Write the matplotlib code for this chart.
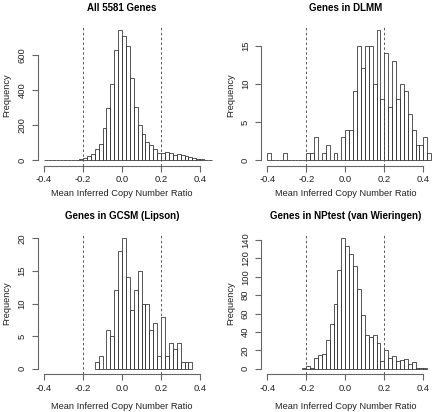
import numpy as np
import matplotlib
matplotlib.use("Agg")
import matplotlib.pyplot as plt

plt.rcParams['font.family'] = ['Liberation Sans', 'DejaVu Sans']

W, H = 433, 412
binw = 0.02

# counts per 0.02 bin, first left edge given separately
all_start = -0.40
all_counts = [1, 1, 0, 0, 0, 0, 1, 1, 2, 6, 15, 23, 38, 62, 95, 185, 300, 435, 625, 740,
              705, 650, 470, 305, 200, 151, 104, 87, 64, 42, 40, 45, 40, 30, 34, 32,
              25, 17, 13, 9, 7, 4, 2]

dlmm_start = -0.40
dlmm_counts = [1, 0, 0, 0, 1, 0, 0, 0, 0, 0, 1, 1, 3, 0, 1, 2, 0, 1, 0, 3,
               4, 4, 9, 15, 12, 15, 15, 10, 17, 8, 14, 7, 13, 8, 10, 9, 6, 4, 2, 2,
               3, 1]

gcsm_start = -0.14
gcsm_counts = [1, 2, 0, 6, 5, 12, 18, 20, 14, 9, 12, 15, 10, 10, 6, 7, 2, 8, 2, 4,
               3, 4, 1, 1, 1]

np_start = -0.22
np_counts = [1, 3, 1, 12, 15, 16, 31, 49, 70, 107, 142, 134, 125, 112, 87, 58, 37, 35,
             37, 28, 9, 20, 12, 14, 9, 10, 11, 5, 7, 1, 1, 1]

titles = ["All 5581 Genes", "Genes in DLMM", "Genes in GCSM (Lipson)",
          "Genes in NPtest (van Wieringen)"]
yticks = [[0, 200, 400, 600], [0, 5, 10, 15], [0, 5, 10, 15, 20],
          [0, 20, 40, 60, 80, 100, 120, 140]]
xticks = [-0.4, -0.2, 0.0, 0.2, 0.4]
xticklabels = ["-0.4", "-0.2", "0.0", "0.2", "0.4"]
cutoffs = [-0.2, 0.2]

panels = [(all_start, all_counts), (dlmm_start, dlmm_counts),
          (gcsm_start, gcsm_counts), (np_start, np_counts)]

# pixel boxes: left, right, top, bottom
boxes = [(37.7, 206.4, 25, 165.5), (261, 429.6, 25, 165.5),
         (37.7, 206.4, 233, 374), (261, 429.6, 233, 374)]
# x label offset below the axes (axes fraction), top row sits closer
xlab_y = [-0.17, -0.17, -0.2, -0.2]

fig = plt.figure(figsize=(W / 100, H / 100), dpi=100)
ink = "#3a3a3a"

for i, ((start, counts), box) in enumerate(zip(panels, boxes)):
    l, r, t, b = box
    ax = fig.add_axes([l / W, 1 - b / H, (r - l) / W, (b - t) / H])
    counts = np.array(counts)
    edges = start + binw * np.arange(len(counts))
    M = counts.max()
    ax.bar(edges, counts, width=binw, align='edge', fill=False,
           edgecolor=ink, linewidth=0.6, clip_on=False)
    for c in cutoffs:
        ax.axvline(c, color="#555555", linestyle=(0, (2.5, 2.5)), linewidth=0.7)
    ax.set_xlim(-0.432, 0.432)
    ax.set_ylim(-0.04 * M, 1.04 * M)
    for s in ["top", "right"]:
        ax.spines[s].set_visible(False)
    ax.spines["left"].set_bounds(yticks[i][0], yticks[i][-1])
    ax.spines["bottom"].set_bounds(-0.4, 0.4)
    for s in ["left", "bottom"]:
        ax.spines[s].set_color("#666666")
        ax.spines[s].set_linewidth(0.8)
    ax.set_xticks(xticks)
    ax.set_xticklabels(xticklabels)
    ax.set_yticks(yticks[i])
    ax.set_yticklabels([str(v) for v in yticks[i]], rotation=90, va="center")
    ax.tick_params(direction="out", length=4, width=0.8, color="#666666",
                   labelsize=6.8, labelcolor="#222222")
    ax.tick_params(axis="y", pad=4)
    ax.tick_params(axis="x", pad=3)
    ax.set_title(titles[i], fontsize=7, fontweight="bold", pad=10)
    ax.set_xlabel("Mean Inferred Copy Number Ratio", fontsize=6.7, color="#222222")
    ax.set_ylabel("Frequency", fontsize=6.7, color="#222222")
    ax.yaxis.set_label_coords(-0.155, 0.5)
    ax.xaxis.set_label_coords(0.5, xlab_y[i])

fig.savefig("out.png", dpi=100)
